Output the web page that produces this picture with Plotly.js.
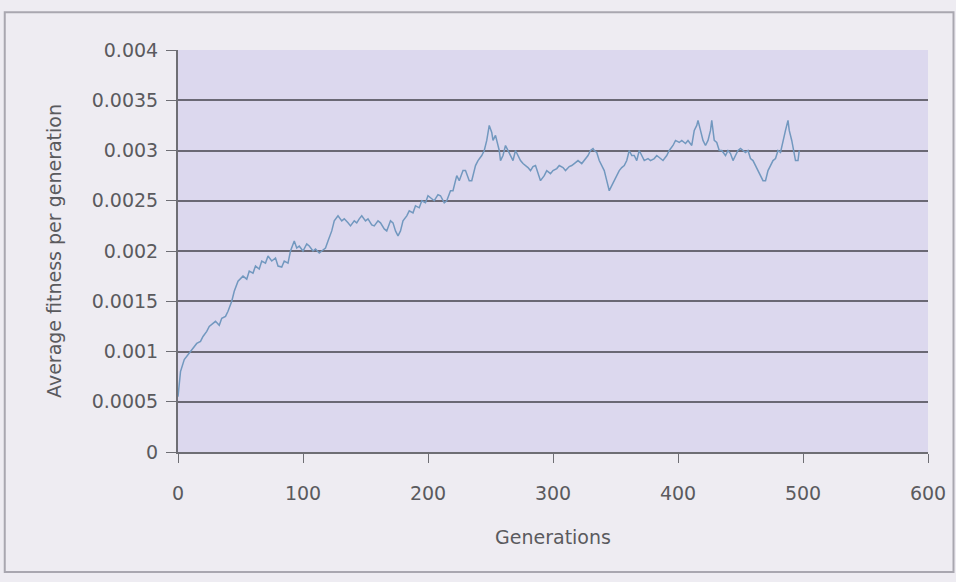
<!DOCTYPE html>
<html>
<head>
<meta charset="utf-8">
<script src="https://cdn.plot.ly/plotly-3.0.1.min.js"></script>
<style>html,body{margin:0;padding:0;background:#eeecf2;}#chart{width:956px;height:582px;}</style>
</head>
<body>
<div id="chart"></div>
<script>
const generations = [0,2,5,8,10,13,15,18,20,23,25,28,30,33,35,38,40,43,45,48,52,55,57,60,62,65,67,70,72,75,78,80,83,85,88,90,93,95,97,100,103,105,108,110,113,115,118,120,123,125,128,131,133,136,138,141,143,145,147,150,152,155,157,160,162,165,167,170,172,174,176,178,180,183,185,188,190,193,195,198,200,203,205,208,210,213,215,218,220,223,225,228,230,233,235,238,240,243,245,247,249,251,252,254,255,257,258,260,262,264,266,268,270,272,274,276,278,280,282,284,286,288,290,293,295,298,300,303,305,308,310,313,315,318,320,323,325,328,330,332,333,335,337,339,341,343,345,347,349,351,353,355,357,359,361,363,365,367,369,371,373,376,378,381,383,386,388,391,393,396,398,401,403,406,408,411,413,415,416,418,420,422,424,426,427,429,431,433,435,438,440,442,444,446,448,450,452,454,456,458,460,462,464,466,468,470,472,474,476,478,480,482,484,486,488,489,491,493,494,496,497];
const fitness = [0.00055,0.0008,0.00092,0.00097,0.001,0.00105,0.00108,0.0011,0.00115,0.0012,0.00125,0.00128,0.0013,0.00126,0.00133,0.00135,0.0014,0.0015,0.0016,0.0017,0.00175,0.00172,0.0018,0.00178,0.00185,0.00182,0.0019,0.00188,0.00195,0.0019,0.00193,0.00185,0.00184,0.0019,0.00188,0.002,0.0021,0.00203,0.00205,0.002,0.00207,0.00205,0.002,0.00202,0.00198,0.002,0.00203,0.0021,0.0022,0.0023,0.00235,0.0023,0.00232,0.00228,0.00225,0.0023,0.00228,0.00232,0.00235,0.0023,0.00232,0.00226,0.00225,0.0023,0.00228,0.00222,0.0022,0.0023,0.00228,0.0022,0.00215,0.0022,0.0023,0.00235,0.0024,0.00238,0.00245,0.00243,0.0025,0.00248,0.00255,0.00252,0.0025,0.00256,0.00255,0.00248,0.0025,0.0026,0.0026,0.00275,0.0027,0.0028,0.0028,0.0027,0.0027,0.00285,0.0029,0.00295,0.003,0.0031,0.00325,0.00318,0.0031,0.00315,0.0031,0.003,0.0029,0.00295,0.00305,0.003,0.00295,0.0029,0.003,0.00295,0.0029,0.00287,0.00285,0.00283,0.0028,0.00284,0.00285,0.00278,0.0027,0.00275,0.0028,0.00277,0.0028,0.00282,0.00285,0.00283,0.0028,0.00284,0.00285,0.00288,0.0029,0.00287,0.0029,0.00295,0.003,0.00302,0.003,0.00298,0.0029,0.00285,0.0028,0.0027,0.0026,0.00265,0.0027,0.00275,0.0028,0.00283,0.00285,0.0029,0.003,0.00295,0.00295,0.0029,0.003,0.00295,0.0029,0.00292,0.0029,0.00292,0.00295,0.00292,0.0029,0.00295,0.003,0.00305,0.0031,0.00308,0.0031,0.00307,0.0031,0.00305,0.0032,0.00325,0.0033,0.0032,0.0031,0.00305,0.0031,0.0032,0.0033,0.0031,0.00308,0.003,0.003,0.00295,0.003,0.00297,0.0029,0.00295,0.003,0.00302,0.003,0.00298,0.003,0.00292,0.0029,0.00285,0.0028,0.00275,0.0027,0.0027,0.0028,0.00285,0.0029,0.00292,0.003,0.00298,0.0031,0.0032,0.0033,0.0032,0.0031,0.00298,0.0029,0.0029,0.003];
const yTickVals = [0,0.0005,0.001,0.0015,0.002,0.0025,0.003,0.0035,0.004];
const yTickText = ["0","0.0005","0.001","0.0015","0.002","0.0025","0.003","0.0035","0.004"];
const xTickVals = [0,100,200,300,400,500,600];
const xTickText = ["0","100","200","300","400","500","600"];

const txt = {family: 'DejaVu Sans, Liberation Sans, sans-serif', size: 19, color: '#5a5a5e'};
const trace = {
  x: generations, y: fitness, type: 'scatter', mode: 'lines',
  line: {color: '#7298bf', width: 1.5}, hoverinfo: 'skip'
};
const layout = {
  width: 956, height: 582,
  margin: {l: 178, r: 28, t: 50, b: 130},
  paper_bgcolor: '#eeecf2',
  plot_bgcolor: '#dcd8ee',
  showlegend: false,
  font: txt,
  xaxis: {
    range: [0, 600], tickvals: xTickVals, ticktext: xTickText,
    showgrid: false, zeroline: false, showline: true, linecolor: '#6e6e74', linewidth: 2,
    ticks: 'outside', ticklen: 9, tickcolor: '#6e6e74', ticklabelstandoff: 14,
    tickfont: txt,
    title: {text: 'Generations', font: txt, standoff: 28}
  },
  yaxis: {
    range: [0, 0.004], tickvals: yTickVals, ticktext: yTickText,
    showgrid: true, gridcolor: '#6a6874', gridwidth: 2, zeroline: false,
    showline: true, linecolor: '#6e6e74', linewidth: 2,
    ticks: 'outside', ticklen: 10, tickcolor: '#6e6e74', ticklabelstandoff: 4,
    tickfont: txt,
    title: {text: 'Average fitness per generation', font: txt, standoff: 25}
  },
  shapes: [{
    type: 'rect', xref: 'paper', yref: 'paper', layer: 'below',
    x0: -0.231, x1: 1.034, y0: -0.2985, y1: 1.094,
    line: {color: '#a9a7b0', width: 2}, fillcolor: 'rgba(0,0,0,0)'
  }]
};
Plotly.newPlot('chart', [trace], layout, {displayModeBar: false, staticPlot: true});
</script>
</body>
</html>
